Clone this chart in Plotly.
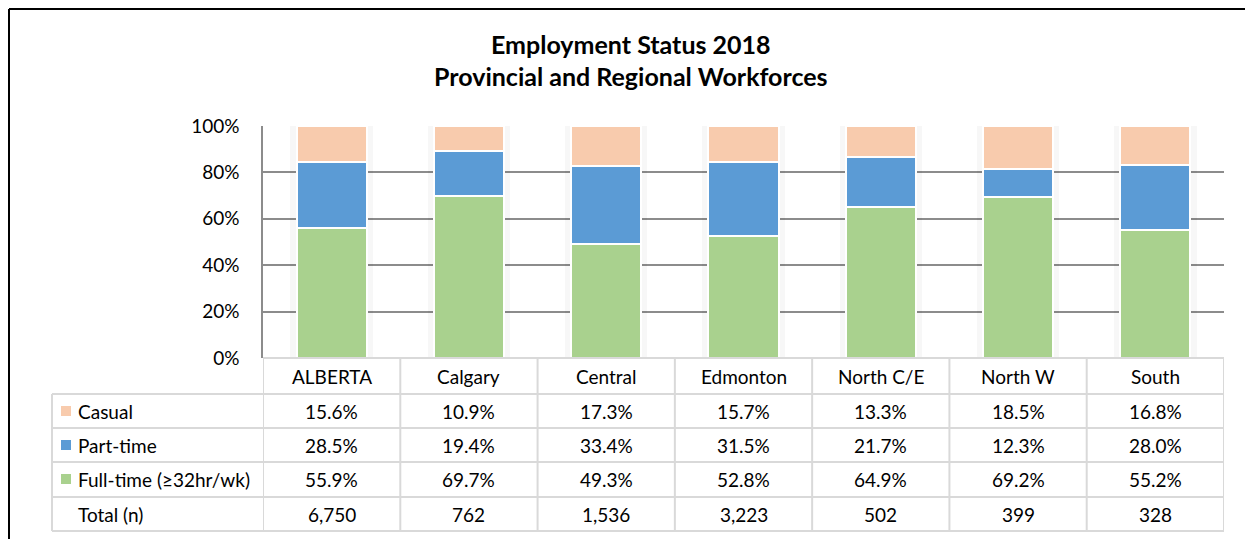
import plotly.graph_objects as go

# data
regions = ['ALBERTA', 'Calgary', 'Central', 'Edmonton', 'North C/E', 'North W', 'South']
casual = [15.6, 10.9, 17.3, 15.7, 13.3, 18.5, 16.8]
part_time = [28.5, 19.4, 33.4, 31.5, 21.7, 12.3, 28.0]
full_time = [55.9, 69.7, 49.3, 52.8, 64.9, 69.2, 55.2]
totals = [6750, 762, 1536, 3223, 502, 399, 328]

colors = {'Casual': '#F8CBAD', 'Part-time': '#5B9BD5', 'Full-time (≥32hr/wk)': '#A9D18E'}

FONT = 'Lato'
W, H = 1253, 539
ML, MR, MT, MB = 263, 29, 126, 181
PAGE = 8  # body margin of the html page
plot_w = W - ML - MR
plot_h = H - MT - MB


def px_x(x):  # reference pixel -> paper x
    return (x - ML) / plot_w


def px_y(y):  # reference pixel -> paper y
    return (H - MB - y) / plot_h


fig = go.Figure()

# soft shadow behind the bars
stack_tot = [(a + b + c) / 100 for a, b, c in zip(casual, part_time, full_time)]
for w, op in [(0.6, 0.03), (0.56, 0.045), (0.53, 0.06)]:
    fig.add_trace(go.Bar(x=regions, y=stack_tot, width=w, marker_color='rgba(0,0,0,%s)' % op,
                         marker_line_width=0, hoverinfo='skip', showlegend=False,
                         xaxis='x', yaxis='y', offset=-w / 2))

# stacked bars (bottom to top)
for name, vals in [('Full-time (≥32hr/wk)', full_time), ('Part-time', part_time), ('Casual', casual)]:
    fig.add_trace(go.Bar(x=regions, y=[v / 100 for v in vals], name=name, width=0.51,
                         marker=dict(color=colors[name], line=dict(color='white', width=2)),
                         xaxis='x2', yaxis='y2', showlegend=False))

txt = dict(family=FONT, size=19, color='#000')
fig.update_layout(
    width=W - PAGE, height=H - PAGE,
    margin=dict(l=ML - PAGE, r=MR, t=MT - PAGE, b=MB),
    paper_bgcolor='white', plot_bgcolor='white',
    barmode='stack', bargap=0.49,
    xaxis=dict(range=[-0.5, 6.5], showticklabels=False, showgrid=False, zeroline=False),
    xaxis2=dict(range=[-0.5, 6.5], overlaying='x', showticklabels=False, showgrid=False, zeroline=False),
    yaxis=dict(range=[0, 1], tickvals=[0, 0.2, 0.4, 0.6, 0.8, 1.0], tickformat='.0%',
               showgrid=True, gridcolor='#8c8c8c', gridwidth=1.5, zeroline=False,
               showline=True, linecolor='#8c8c8c', linewidth=1.5,
               ticks='', ticklabelstandoff=18, tickfont=txt),
    yaxis2=dict(range=[0, 1], overlaying='y', showticklabels=False, showgrid=False, zeroline=False),
)

shapes = []
light = dict(color='#d9d9d9', width=2)
# table horizontal lines
row_edges = [358, 394, 428, 462, 497, 531]
for i, y in enumerate(row_edges):
    x0 = px_x(263) if i == 0 else px_x(52)
    shapes.append(dict(type='line', xref='paper', yref='paper', x0=x0, x1=1.0,
                       y0=px_y(y), y1=px_y(y), line=light))
# table vertical lines
shapes.append(dict(type='line', xref='paper', yref='paper', x0=px_x(52), x1=px_x(52),
                   y0=px_y(394), y1=px_y(531), line=light))
for k in range(len(regions) + 1):
    shapes.append(dict(type='line', xref='x', yref='paper', x0=k - 0.5, x1=k - 0.5,
                       y0=px_y(358), y1=px_y(531), line=light))
# outer chart border (kept just inside the figure)
shapes.append(dict(type='line', xref='paper', yref='paper', x0=px_x(9), x1=px_x(9),
                   y0=px_y(9), y1=px_y(545), line=dict(color='#000', width=2)))
shapes.append(dict(type='line', xref='paper', yref='paper', x0=px_x(9), x1=px_x(1260),
                   y0=px_y(9), y1=px_y(9), line=dict(color='#000', width=2)))

annotations = []
# header row
for r in regions:
    annotations.append(dict(x=r, y=px_y(376), xref='x', yref='paper', text=r, yanchor='middle',
                            showarrow=False, font=txt))
# series rows
rows = [('Casual', casual, 411), ('Part-time', part_time, 445), ('Full-time (≥32hr/wk)', full_time, 479)]
for name, vals, yc in rows:
    shapes.append(dict(type='rect', xref='paper', yref='paper',
                       x0=px_x(61), x1=px_x(71), y0=px_y(yc - 5), y1=px_y(yc + 5),
                       fillcolor=colors[name], line=dict(width=0)))
    annotations.append(dict(x=px_x(76), y=px_y(yc), xref='paper', yref='paper', text=name,
                            xanchor='left', yanchor='middle', showarrow=False, font=txt))
    for r, v in zip(regions, vals):
        annotations.append(dict(x=r, y=px_y(yc), xref='x', yref='paper', text=f'{v:.1f}%',
                                yanchor='middle', showarrow=False, font=txt))
annotations.append(dict(x=px_x(76), y=px_y(514), xref='paper', yref='paper', text='Total (n)',
                        xanchor='left', yanchor='middle', showarrow=False, font=txt))
for r, n in zip(regions, totals):
    annotations.append(dict(x=r, y=px_y(514), xref='x', yref='paper', text=f'{n:,}',
                            yanchor='middle', showarrow=False, font=txt))

# title
title_font = dict(family=FONT, size=25, color='#000', weight='bold')
annotations.append(dict(x=px_x(631), y=px_y(44), xref='paper', yref='paper', yanchor='middle',
                        text='Employment Status 2018', showarrow=False, font=title_font))
annotations.append(dict(x=px_x(631), y=px_y(76), xref='paper', yref='paper', yanchor='middle',
                        text='Provincial and Regional Workforces', showarrow=False, font=title_font))

fig.update_layout(shapes=shapes, annotations=annotations)

fig.write_html("out.html")
